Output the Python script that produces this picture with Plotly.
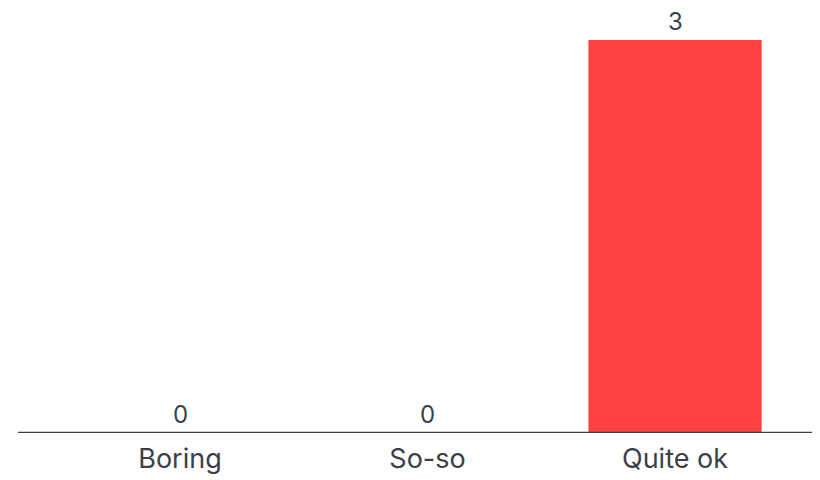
import plotly.graph_objects as go

categories = ["Boring", "So-so", "Quite ok"]
values = [0, 0, 3]
bar_color = "#FF4141"
text_color = "#3B3F47"

fig = go.Figure()
fig.add_trace(go.Bar(
    x=categories, y=values, width=0.7,
    marker=dict(color=bar_color, line=dict(width=0)),
    hoverinfo="skip",
))
for c, v in zip(categories, values):
    fig.add_annotation(x=c, y=v, text=str(v), showarrow=False,
                       yanchor="bottom", yshift=2,
                       font=dict(family="Inter", size=24, color=text_color))

fig.update_layout(
    width=820, height=480,
    margin=dict(l=10, r=0, t=0, b=55),
    paper_bgcolor="white", plot_bgcolor="white",
    showlegend=False,
    xaxis=dict(range=[-0.6545, 2.618], showgrid=False, zeroline=False,
               showline=False, ticks="", ticklabelstandoff=7,
               tickfont=dict(family="Inter", size=27, color=text_color)),
    yaxis=dict(range=[0, 3.244], visible=False, showgrid=False, zeroline=False),
    shapes=[dict(type="line", xref="paper", yref="y", x0=0, x1=1, y0=0, y1=0,
                 line=dict(color="#3B3F47", width=2.5))],
)
fig.write_html("out.html")
